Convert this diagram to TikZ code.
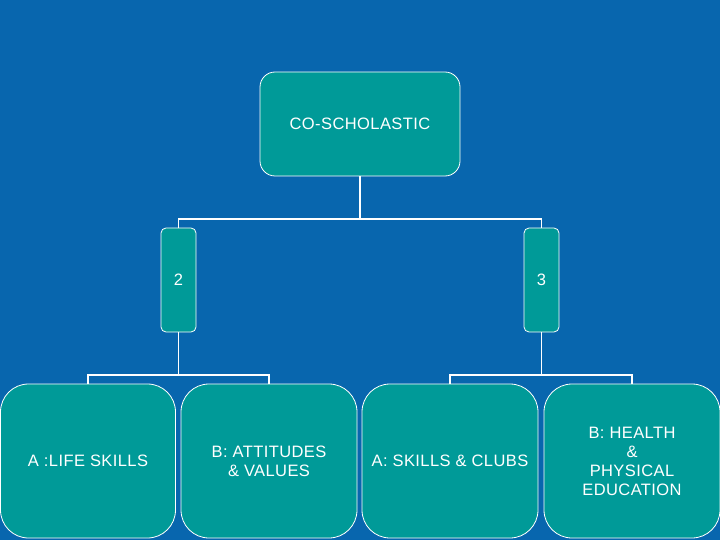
\documentclass[tikz,border=0pt]{standalone}
\usepackage{fontspec}
\setmainfont[LetterSpace=2.5]{Liberation Sans}
\definecolor{bgblue}{HTML}{0866AE}
\definecolor{boxteal}{HTML}{009A98}
\tikzset{
  box/.style={draw=white, line width=0.8pt, fill=boxteal, text=white, align=center,
    inner sep=0pt, font=\fontsize{16.5}{19}\selectfont},
  link/.style={draw=white, line width=1.6pt}
}
\begin{document}
\begin{tikzpicture}[x=1pt,y=-1pt]
\fill[bgblue] (0,0) rectangle (720,540);
\useasboundingbox (0,0) rectangle (720,540);
\node[box, rounded corners=15pt, minimum width=200pt, minimum height=104pt] (top) at (360,124) {CO-SCHOLASTIC};
\node[box, rounded corners=5pt, minimum width=35pt, minimum height=104pt] (two) at (178.5,280) {2};
\node[box, rounded corners=5pt, minimum width=35pt, minimum height=104pt] (three) at (541.5,280) {3};
\node[box, rounded corners=28pt, minimum width=175pt, minimum height=154pt] (la) at (88,461) {A :LIFE SKILLS};
\node[box, rounded corners=28pt, minimum width=176pt, minimum height=154pt] (lb) at (269,461) {B: ATTITUDES\\\& VALUES};
\node[box, rounded corners=28pt, minimum width=176pt, minimum height=154pt] (ra) at (450,461) {A: SKILLS \& CLUBS};
\node[box, rounded corners=28pt, minimum width=176pt, minimum height=154pt] (rb) at (632,461) {B: HEALTH\\\&\\PHYSICAL\\EDUCATION};
\coordinate (j1) at (360,219);
\coordinate (j2) at (178.5,375);
\coordinate (j3) at (541.5,375);
\draw[link] (top.south) -- (j1) -| (two.north);
\draw[link] (j1) -| (three.north);
\draw[link] (two.south) -- (j2) -| (la.north);
\draw[link] (j2) -| (lb.north);
\draw[link] (three.south) -- (j3) -| (ra.north);
\draw[link] (j3) -| (rb.north);
\end{tikzpicture}
\end{document}
